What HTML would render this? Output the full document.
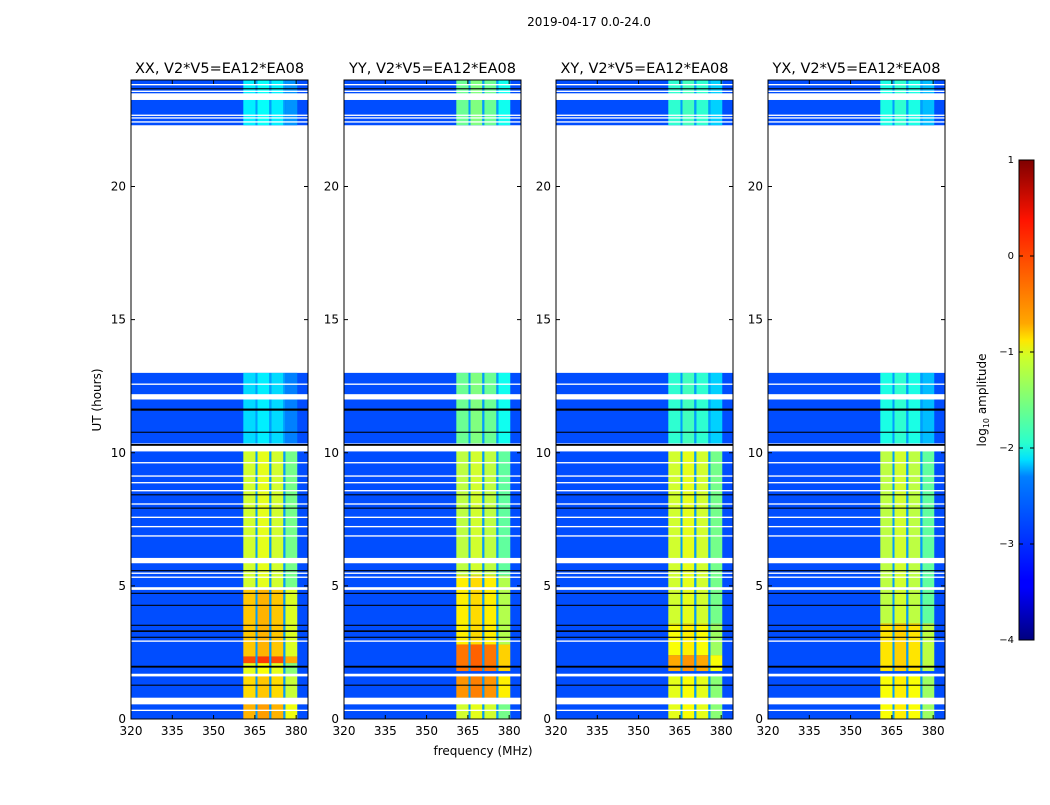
<!DOCTYPE html>
<html><head><meta charset="utf-8"><style>
body{margin:0;background:#fff;}
svg text{font-family:"DejaVu Sans","Liberation Sans",sans-serif;fill:#000;}
</style></head><body>
<svg id="fig" width="1050" height="800" xmlns="http://www.w3.org/2000/svg">
<defs>
<linearGradient id="jet" x1="0" y1="1" x2="0" y2="0">
<stop offset="0" stop-color="#00007f"/><stop offset="0.11" stop-color="#0000ff"/><stop offset="0.125" stop-color="#0000ff"/>
<stop offset="0.34" stop-color="#0080ff"/><stop offset="0.375" stop-color="#00dfff"/><stop offset="0.41" stop-color="#29ffce"/>
<stop offset="0.5" stop-color="#7dff7a"/><stop offset="0.59" stop-color="#ceff29"/><stop offset="0.625" stop-color="#ffe600"/>
<stop offset="0.66" stop-color="#ffa700"/><stop offset="0.875" stop-color="#ff1300"/><stop offset="1" stop-color="#7f0000"/>
</linearGradient>
</defs>
<text x="589" y="26" font-size="12" text-anchor="middle">2019-04-17 0.0-24.0</text>
<g id="panels"></g>
<text x="483" y="755" font-size="12" text-anchor="middle">frequency (MHz)</text>
<text transform="translate(101,400) rotate(-90)" font-size="12" text-anchor="middle">UT (hours)</text>
<g id="cbar">
<rect x="1019" y="160" width="15" height="480" fill="url(#jet)" stroke="#000" stroke-width="1"/>
<text transform="translate(986,400) rotate(-90)" font-size="12" text-anchor="middle">log<tspan font-size="8" dy="3">10</tspan><tspan dy="-3"> amplitude</tspan></text>
</g>
</svg>
<script>
const panelNames=["XX","YY","XY","YX"];
const freqTicks=[320,335,350,365,380];
const hourTicks=[0,5,10,15,20];
const cbarTicks=[1,0,-1,-2,-3,-4];
// data present time ranges (hours)
const dataRanges=[[0,10.25],[10.35,13.0],[22.3,24.0]];
// flagged (white) hour ranges
const whiteFlags=[[0.3,0.35],[0.55,0.8],[1.6,1.7],[2.9,2.95],[4.85,4.95],[5.3,5.35],[5.45,5.5],[5.85,6.05],[6.85,6.9],[7.2,7.25],[7.55,7.6],[8.05,8.1],[8.55,8.6],[8.85,8.9],[9.1,9.15],[9.6,9.65],[10.05,10.3],[12.0,12.2],[12.55,12.6],[22.4,22.45],[22.55,22.6],[22.65,22.7],[23.25,23.5],[23.55,23.6],[23.8,23.85]];
// black (zero) lines
const blackFlags=[[1.25,1.29],[1.93,2.0],[3.05,3.09],[3.27,3.33],[3.5,3.54],[4.25,4.29],[4.7,4.74],[5.55,5.59],[7.9,7.94],[8.4,8.44],[10.26,10.33],[10.75,10.79],[11.58,11.66],[23.65,23.69]];
const backgroundLevel=-3.0;
const bandStart=360.8, bandEnd=380.4;
const stripeFreqs=[365.6,370.6,375.7];
const subBandOffsets=[0,0.1,0,-0.45];
// band levels per panel: [start hour, end hour, log amplitude]
const bandXX=[[0,0.8,-0.5],[0.8,1.6,-0.7],[1.6,2.1,-1.0],[2.1,2.35,0.0],[2.35,4.9,-0.6],[4.9,10.25,-1.1],[10.35,13,-2.3],[22.3,24,-2.2]];
const bandYY=[[0,0.8,-1.1],[0.8,1.7,-0.35],[1.8,2.8,-0.2],[2.8,5.4,-0.8],[5.4,10.25,-1.2],[10.35,13,-1.6],[22.3,24,-1.6]];
const bandXY=[[0,1.7,-1.0],[1.8,2.4,-0.45],[2.4,3.6,-0.9],[3.6,10.25,-1.1],[10.35,13,-1.9],[22.3,24,-1.9]];
const bandYX=[[0,1.7,-0.9],[1.8,3.6,-0.75],[3.6,10.25,-1.2],[10.35,13,-2.0],[22.3,24,-2.0]];
const bandLevels=[bandXX,bandYY,bandXY,bandYX];

const NS="http://www.w3.org/2000/svg";
const panelX0=[131,344,556,768], PW=177, PT=80, PB=719;
const fMin=320, fMax=384.3, hMin=0, hMax=24;
function xs(i,f){return panelX0[i]+(f-fMin)/(fMax-fMin)*PW;}
function ys(h){return PB-(h-hMin)/(hMax-hMin)*(PB-PT);}
function jet(v){let t=Math.max(0,Math.min(1,(v+4)/5));
 const r=Math.max(0,Math.min(1,Math.min(4*t-1.5,-4*t+4.5)));
 const g=Math.max(0,Math.min(1,Math.min(4*t-0.5,-4*t+3.5)));
 const b=Math.max(0,Math.min(1,Math.min(4*t+0.5,-4*t+2.5)));
 return `rgb(${Math.round(r*255)},${Math.round(g*255)},${Math.round(b*255)})`;}
function mk(tag,attrs,parent){const e=document.createElementNS(NS,tag);for(const k in attrs)e.setAttribute(k,attrs[k]);parent.appendChild(e);return e;}
function hr(g,i,f0,f1,h0,h1,fill){const y0=ys(h1),y1=ys(h0);return mk("rect",{x:xs(i,f0),y:y0,width:xs(i,f1)-xs(i,f0),height:Math.max(y1-y0,0.8),fill:fill},g);}
const root=document.getElementById("panels");
panelNames.forEach((nm,i)=>{
 const g=mk("g",{},root);
 
 
 dataRanges.forEach(r=>{const e=hr(g,i,fMin,fMax,r[0],r[1],jet(backgroundLevel));
  
  });
 const sub=[bandStart].concat(stripeFreqs,[bandEnd]);
 bandLevels[i].forEach(b=>{
  for(let k=0;k<sub.length-1;k++){
   const e=hr(g,i,k===0?sub[k]:sub[k]+0.35,k===sub.length-2?sub[k+1]:sub[k+1]-0.35,b[0],b[1],jet(b[2]+subBandOffsets[k]));
   
   }
  stripeFreqs.forEach(sf=>{const e=hr(g,i,sf-0.35,sf+0.35,b[0],b[1],jet(-2.6));
   
   });
 });
 whiteFlags.forEach(w=>{const e=hr(g,i,fMin,fMax,w[0],w[1],"#fff");
  
  });
 blackFlags.forEach(w=>{const e=hr(g,i,fMin,fMax,w[0],w[1],"#000");
  
  });
 const fr=mk("rect",{x:panelX0[i],y:PT,width:PW,height:PB-PT,fill:"none",stroke:"#000","stroke-width":1},g);
 
 
 const t=mk("text",{x:panelX0[i]+PW/2,y:PT-7,"font-size":14.5,"text-anchor":"middle"},g);
 t.textContent=nm+", V2*V5=EA12*EA08";
 
 
 freqTicks.forEach(f=>{const x=xs(i,f);
  mk("line",{x1:x,x2:x,y1:PB,y2:PB-4,stroke:"#000"},g);
  mk("line",{x1:x,x2:x,y1:PT,y2:PT+4,stroke:"#000"},g);
  const l=mk("text",{x:x,y:PB+16,"font-size":12,"text-anchor":"middle"},g);
  l.textContent=f;
  
  });
 hourTicks.forEach(h=>{const y=ys(h);
  mk("line",{x1:panelX0[i],x2:panelX0[i]+4,y1:y,y2:y,stroke:"#000"},g);
  mk("line",{x1:panelX0[i]+PW,x2:panelX0[i]+PW-4,y1:y,y2:y,stroke:"#000"},g);
  const l=mk("text",{x:panelX0[i]-5,y:y+4,"font-size":12,"text-anchor":"end"},g);
  l.textContent=h;
  
  });
});
const cb=document.getElementById("cbar");
cbarTicks.forEach(v=>{const y=640-(v+4)/5*480;
 mk("line",{x1:1019,x2:1023,y1:y,y2:y,stroke:"#000"},cb);
 mk("line",{x1:1030,x2:1034,y1:y,y2:y,stroke:"#000"},cb);
 const l=mk("text",{x:1014,y:y+3,"font-size":10,"text-anchor":"end"},cb);
 l.textContent=v<0?"\u2212"+(-v):String(v);
 
 });
</script>
</body></html>
